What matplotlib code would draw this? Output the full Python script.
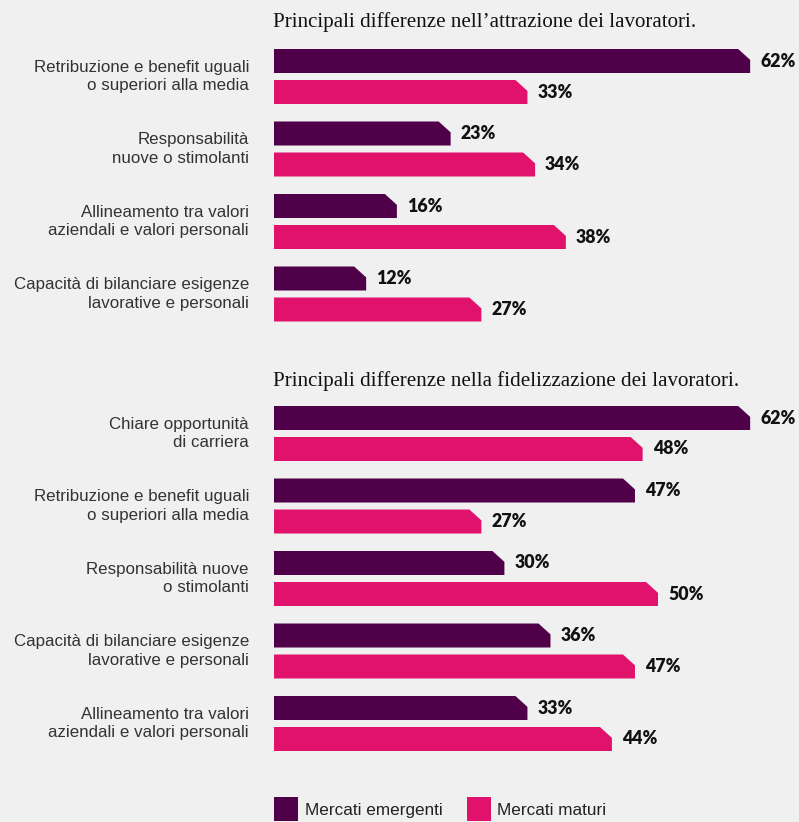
import matplotlib
matplotlib.use("Agg")
import matplotlib.pyplot as plt
from matplotlib.patches import Polygon, Rectangle

# ---------------- data ----------------
title_top = "Principali differenze nell\u2019attrazione dei lavoratori."
cats_top = ["Retribuzione e benefit uguali\no superiori alla media",
            "Responsabilità\nnuove o stimolanti",
            "Allineamento tra valori\naziendali e valori personali",
            "Capacità di bilanciare esigenze\nlavorative e personali"]
emerg_top = [62, 23, 16, 12]
maturi_top = [33, 34, 38, 27]

title_bot = "Principali differenze nella fidelizzazione dei lavoratori."
cats_bot = ["Chiare opportunità\ndi carriera",
            "Retribuzione e benefit uguali\no superiori alla media",
            "Responsabilità nuove\no stimolanti",
            "Capacità di bilanciare esigenze\nlavorative e personali",
            "Allineamento tra valori\naziendali e valori personali"]
emerg_bot = [62, 47, 30, 36, 33]
maturi_bot = [48, 27, 50, 47, 44]

series_names = ["Mercati emergenti", "Mercati maturi"]
colors = ["#4f0048", "#e0126c"]
bg = "#f0f0f0"

# ---------------- layout ----------------
W, H = 799, 822
fig = plt.figure(figsize=(W / 100, H / 100), dpi=100, facecolor=bg)

x0_px = 274
px_per_pct = 7.68
xmax = (W - x0_px) / px_per_pct
grp_px = 72.5

sans = ["Liberation Sans", "DejaVu Sans"]
serif = ["Liberation Serif", "DejaVu Serif"]
bold = ["Lato", "DejaVu Sans"]


def make_axes(center0_px, n):
    top_px = center0_px - grp_px / 2
    bot_px = center0_px + (n - 0.5) * grp_px
    ax = fig.add_axes([x0_px / W, 1 - bot_px / H, (W - x0_px) / W, (bot_px - top_px) / H])
    ax.set_xlim(0, xmax)
    ax.set_ylim(n - 0.5, -0.5)
    ax.axis("off")
    ax.set_facecolor("none")
    return ax


def bevel_bar(ax, y, v, h, color):
    dx = 12 / px_per_pct
    dy = 0.15
    pts = [(0, y - h / 2), (v - dx, y - h / 2), (v, y - h / 2 + dy),
           (v, y + h / 2), (0, y + h / 2)]
    ax.add_patch(Polygon(pts, closed=True, facecolor=color, edgecolor="none"))
    ax.text(v + 10 / px_per_pct, y, f"{v}%", fontsize=12.8, fontweight="heavy",
            family=bold, va="center", ha="left", color="#111111")


def panel(ax, cats, e, m):
    off = 15.5 / grp_px
    h = 24 / grp_px
    for i, cat in enumerate(cats):
        bevel_bar(ax, i - off, e[i], h, colors[0])
        bevel_bar(ax, i + off, m[i], h, colors[1])
        ax.text(-25 / px_per_pct, i, cat, ha="right", va="center", fontsize=12.2,
                family=sans, color="#333333", linespacing=1.32)


ax1 = make_axes(76.5, len(cats_top))
panel(ax1, cats_top, emerg_top, maturi_top)
ax2 = make_axes(433.5, len(cats_bot))
panel(ax2, cats_bot, emerg_bot, maturi_bot)

fig.text(273 / W, 1 - 22 / H, title_top, family=serif, fontsize=15.1,
         va="center", ha="left", color="#111111")
fig.text(273 / W, 1 - 381 / H, title_bot, family=serif, fontsize=15.1,
         va="center", ha="left", color="#111111")

# legend
for (sx, tx), name, c in zip([(274, 305), (467, 497)], series_names, colors):
    fig.patches.append(Rectangle((sx / W, 1 - 821 / H), 24 / W, 24 / H,
                                 transform=fig.transFigure, facecolor=c, edgecolor="none"))
    fig.text(tx / W, 1 - 810 / H, name, family=sans, fontsize=12.3,
             va="center", ha="left", color="#222222")

fig.savefig("out.png", dpi=100, facecolor=bg)
